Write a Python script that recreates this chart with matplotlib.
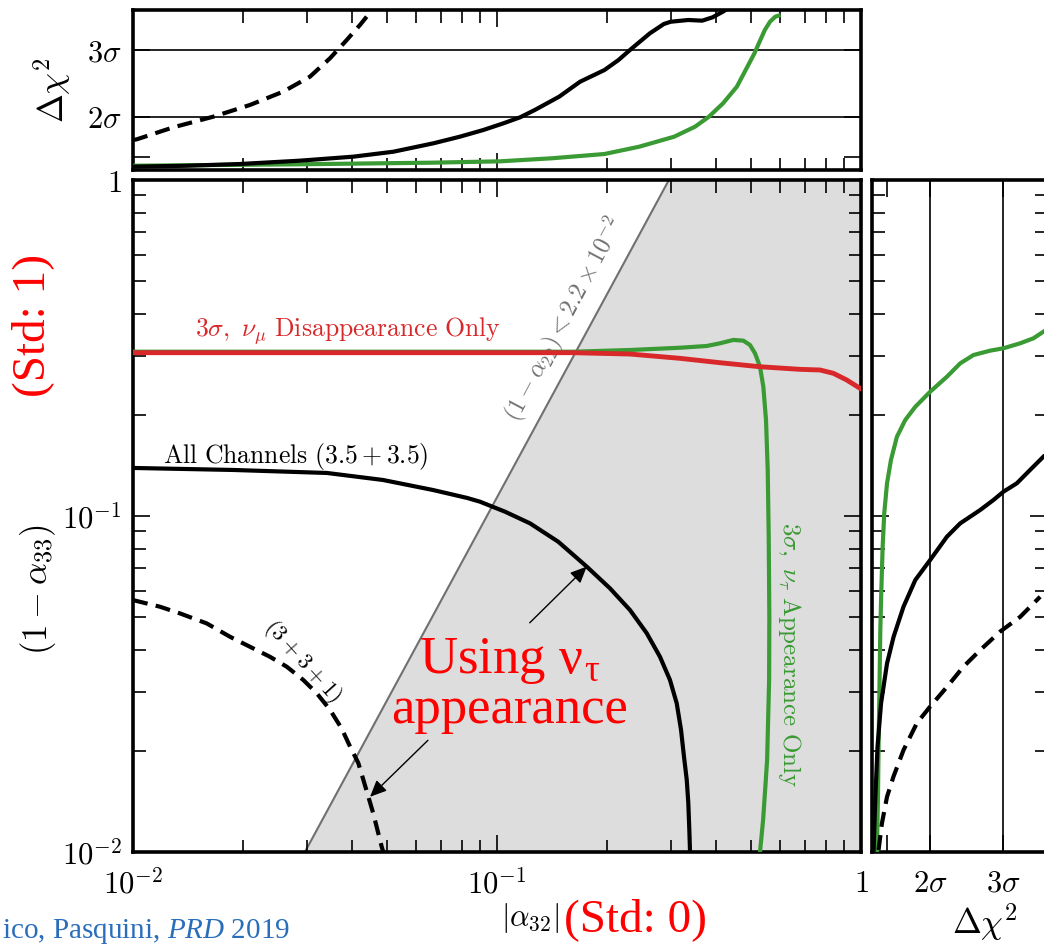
import numpy as np
import matplotlib
matplotlib.use("Agg")
import matplotlib.pyplot as plt
from matplotlib.ticker import LogLocator, NullFormatter

plt.rcParams['mathtext.fontset'] = 'cm'
plt.rcParams['mathtext.it'] = 'Liberation Serif:italic'

# ==== DATA ====
# bound on (1 - alpha_22) that defines the shaded region
alpha22_bound = 2.2e-2

# main panel contours: |alpha_32| vs (1 - alpha_33)
red_x = [0.01, 0.05, 0.0898, 0.162, 0.2319, 0.3182, 0.4099, 0.5279, 0.6799,
         0.7716, 0.8394, 0.9136, 0.9938, 1.0]
red_y = [0.3062, 0.3062, 0.3062, 0.3062, 0.3034, 0.2946, 0.2859, 0.2781, 0.2732,
         0.2720, 0.2659, 0.2540, 0.2399, 0.239]

green_x = [0.01, 0.05, 0.0898, 0.162, 0.2319, 0.3182, 0.3768, 0.4099, 0.4460,
           0.4750, 0.4955, 0.5115, 0.5279, 0.5391, 0.5483, 0.5543, 0.5578, 0.5600,
           0.5592, 0.5557, 0.5522, 0.5453, 0.5383, 0.5279]
green_y = [0.3083, 0.3083, 0.3083, 0.3083, 0.3119, 0.3168, 0.3206, 0.3266, 0.3342,
           0.3326, 0.3228, 0.3049, 0.2781, 0.2425, 0.1931, 0.1371, 0.0868, 0.0501,
           0.0325, 0.0247, 0.0188, 0.0153, 0.01245, 0.01]

black_x = [0.01, 0.0188, 0.0341, 0.0486, 0.0667, 0.0827, 0.0898, 0.1052, 0.1232,
           0.1474, 0.1764, 0.2044, 0.2319, 0.2578, 0.2804, 0.2987, 0.3117, 0.3203,
           0.3264, 0.3321, 0.3354, 0.3376, 0.3391]
black_y = [0.139, 0.1371, 0.1343, 0.128, 0.1195, 0.1132, 0.1103, 0.1030, 0.0951,
           0.0838, 0.0707, 0.0609, 0.0525, 0.0448, 0.0381, 0.0325, 0.0277, 0.0231,
           0.0192, 0.0164, 0.0140, 0.0116, 0.01]

dash_x = [0.01, 0.01186, 0.01346, 0.01594, 0.01848, 0.02097, 0.02379, 0.02645,
          0.02937, 0.03196, 0.03477, 0.03744, 0.03947, 0.04159, 0.04294, 0.04432,
          0.04574, 0.04719, 0.04822, 0.04871]
dash_y = [0.0562, 0.0537, 0.0513, 0.0479, 0.0437, 0.0408, 0.0381, 0.0356, 0.0325,
          0.0297, 0.0265, 0.0233, 0.0206, 0.0184, 0.0164, 0.0146, 0.0130, 0.01137,
          0.01037, 0.01]

# top panel: delta chi^2 vs |alpha_32|
top_black_x = [0.01, 0.01404, 0.01968, 0.02876, 0.04029, 0.05189, 0.06683, 0.07911,
               0.09171, 0.1041, 0.1157, 0.1270, 0.1482, 0.1691, 0.1974, 0.2157,
               0.2330, 0.2630, 0.2873, 0.3001, 0.3352, 0.3661, 0.3909, 0.4178, 0.4271]
top_black_c = [0.25, 0.32, 0.45, 0.70, 1.0, 1.37, 2.0, 2.5, 3.0, 3.5, 3.95, 4.5,
               5.5, 6.62, 7.5, 8.25, 9.05, 10.25, 10.95, 11.12, 11.25, 11.2, 11.45,
               11.88, 12.05]
top_green_x = [0.01, 0.02876, 0.0667, 0.1019, 0.1416, 0.1974, 0.2461, 0.3069,
               0.3501, 0.3822, 0.4178, 0.456, 0.4875, 0.5096, 0.5266, 0.5442,
               0.5623, 0.5815, 0.594]
top_green_c = [0.32, 0.43, 0.55, 0.65, 0.88, 1.2, 1.75, 2.5, 3.25, 4.0, 5.0, 6.25,
               7.75, 8.75, 9.63, 10.5, 11.12, 11.5, 11.58]
top_dash_x = [0.01, 0.01024, 0.0129, 0.01662, 0.02097, 0.02588, 0.03063, 0.03477,
              0.03865, 0.04204, 0.04385]
top_dash_c = [2.25, 2.3, 3.2, 4.0, 4.88, 5.88, 7.0, 8.38, 9.75, 10.88, 11.5]

# right panel: (1 - alpha_33) vs delta chi^2
right_green_c = [0.34, 0.41, 0.45, 0.52, 0.57, 0.64, 0.73, 0.84, 1.03, 1.30, 1.71,
                 2.28, 2.97, 3.99, 5.14, 6.05, 6.96, 8.10, 9.01, 10.16, 11.07, 11.75]
right_green_y = [0.01014, 0.0146, 0.0206, 0.0325, 0.0458, 0.0602, 0.0810, 0.1019,
                 0.1251, 0.1468, 0.1722, 0.1931, 0.2114, 0.2344, 0.2598, 0.2847,
                 0.3014, 0.3105, 0.3156, 0.3266, 0.3380, 0.3535]
right_black_c = [0.11, 0.23, 0.38, 0.62, 1.03, 1.48, 2.16, 2.97, 3.99, 5.14, 6.05,
                 7.42, 8.33, 9.01, 9.93, 10.84, 11.75]
right_black_y = [0.01014, 0.0146, 0.0206, 0.0277, 0.0364, 0.0437, 0.0537, 0.0645,
                 0.0740, 0.0868, 0.0951, 0.1042, 0.1116, 0.1181, 0.1251, 0.1371,
                 0.1501]
right_dash_c = [0.45, 0.68, 1.03, 1.48, 2.16, 3.08, 3.99, 5.14, 6.27, 7.42, 8.79,
                10.16, 11.53]
right_dash_y = [0.01014, 0.01217, 0.0146, 0.0168, 0.0201, 0.0242, 0.0271, 0.0310,
                0.0356, 0.0399, 0.0453, 0.0501, 0.0575]

# delta chi^2 levels for 1, 2, 3 sigma
sigma_levels = [1, 4, 9]
sigma_labels = ['', r'$2\sigma$', r'$3\sigma$']

RED = '#d8282a'
GREEN = '#3a9a33'
LW = 3.0
DASH = (0, (3.6, 2.0))

fig = plt.figure(figsize=(10.44, 9.48), dpi=100)
W, H = 1044.0, 948.0

def px_axes(left, top, right, bottom):
    return fig.add_axes([left / W, 1 - bottom / H, (right - left) / W, (bottom - top) / H])

ax = px_axes(133, 180, 861, 852)
axt = px_axes(133, 10, 861, 170)
axr = px_axes(872, 180, 1047, 852)

def style(a):
    for s in a.spines.values():
        s.set_linewidth(2.6)
    a.tick_params(which='both', direction='in', top=True, right=True,
                  width=1.2, labelsize=22, pad=8)
    a.tick_params(which='major', length=12)
    a.tick_params(which='minor', length=9)

# ==== MAIN PANEL ====
ax.set_xscale('log')
ax.set_yscale('log')
ax.set_xlim(0.01, 1)
ax.set_ylim(0.01, 1)

yy = np.logspace(-2, 0, 200)
xb = np.sqrt(4 * alpha22_bound * yy)
ax.fill_betweenx(yy, xb, 1, color='#dddddd', zorder=0)
ax.plot(xb, yy, color='#707070', lw=1.5, zorder=1)

ax.plot(green_x, green_y, color=GREEN, lw=LW, zorder=3, solid_joinstyle='round')
ax.plot(red_x, red_y, color=RED, lw=LW + 0.5, zorder=4, solid_joinstyle='round')
ax.plot(black_x, black_y, color='black', lw=LW, zorder=5, solid_joinstyle='round')
ax.plot(dash_x, dash_y, color='black', lw=LW, ls=DASH, zorder=5)

ax.set_xticks([0.01, 0.1, 1], [r'$10^{-2}$', r'$10^{-1}$', r'$1$'])
ax.set_yticks([0.01, 0.1, 1], [r'$10^{-2}$', r'$10^{-1}$', r'$1$'])
for axis in (ax.xaxis, ax.yaxis):
    axis.set_minor_locator(LogLocator(base=10, subs=range(2, 10)))
    axis.set_minor_formatter(NullFormatter())
style(ax)
ax.tick_params(axis='x', pad=12)

ax.text(0.0148, 0.355, r'$3\sigma,\ \nu_\mu\ \mathrm{Disappearance\ Only}$',
        color=RED, fontsize=18.5, ha='left', va='center')
ax.text(0.0121, 0.150, r'$\mathrm{All\ Channels}\ (3.5+3.5)$',
        color='black', fontsize=18.5, ha='left', va='center')
ax.text(0.153, 0.385, r'$(1-\alpha_{22}) < 2.2\times10^{-2}$',
        color='#707070', fontsize=17.5, rotation=62, ha='center', va='center')
ax.text(0.638, 0.0386, r'$3\sigma,\ \nu_\tau\ \mathrm{Appearance\ Only}$',
        color=GREEN, fontsize=18, rotation=-90, ha='center', va='center')
ax.text(0.0293, 0.0368, r'$(3+3+1)$', color='black', fontsize=16.5,
        rotation=-48, ha='center', va='center')

ax.text(0.1086, 0.0314, 'Using ν$_{\\mathregular{τ}}$\nappearance', color='red',
        fontsize=38, family='Liberation Serif', ha='center', va='center',
        linespacing=1.0, zorder=6)
arrow = dict(arrowstyle='-|>,head_length=1.0,head_width=0.45', color='black',
             lw=1.0, shrinkA=0, shrinkB=0)
ax.annotate('', xy=(0.1764, 0.0707), xytext=(0.123, 0.0481), arrowprops=arrow, zorder=6)
ax.annotate('', xy=(0.0448, 0.0146), xytext=(0.0646, 0.0215), arrowprops=arrow, zorder=6)

# ==== TOP PANEL ====
axt.set_xscale('log')
axt.set_xlim(0.01, 1)
axt.set_ylim(0, 12)
for lev in sigma_levels[1:]:
    axt.axhline(lev, color='black', lw=1.2, zorder=1)
axt.plot(top_green_x, top_green_c, color=GREEN, lw=LW, zorder=3, solid_joinstyle='round')
axt.plot(top_black_x, top_black_c, color='black', lw=LW, zorder=4, solid_joinstyle='round')
axt.plot(top_dash_x, top_dash_c, color='black', lw=LW, ls=DASH, zorder=4)
axt.set_yticks(sigma_levels, sigma_labels)
axt.xaxis.set_minor_locator(LogLocator(base=10, subs=range(2, 10)))
axt.xaxis.set_minor_formatter(NullFormatter())
style(axt)
axt.tick_params(labelbottom=False)

# ==== RIGHT PANEL ====
axr.set_yscale('log')
axr.set_ylim(0.01, 1)
axr.set_xlim(0, 12)
for lev in sigma_levels[1:]:
    axr.axvline(lev, color='black', lw=1.2, zorder=1)
axr.plot(right_green_c, right_green_y, color=GREEN, lw=LW, zorder=3, solid_joinstyle='round')
axr.plot(right_black_c, right_black_y, color='black', lw=LW, zorder=4, solid_joinstyle='round')
axr.plot(right_dash_c, right_dash_y, color='black', lw=LW, ls=DASH, zorder=4)
axr.set_xticks(sigma_levels, sigma_labels)
axr.set_yticks([0.01, 0.1, 1])
axr.yaxis.set_minor_locator(LogLocator(base=10, subs=range(2, 10)))
axr.yaxis.set_minor_formatter(NullFormatter())
style(axr)
axr.tick_params(labelleft=False)
axr.tick_params(axis='x', pad=12)

# ==== AXIS LABELS / NOTES ====
fig.text(530 / W, 1 - 918 / H, r'$|\alpha_{32}|$', fontsize=22, ha='center', va='center')
fig.text(38 / W, 1 - 590 / H, r'$(1-\alpha_{33})$', fontsize=25, rotation=90,
         ha='center', va='center')
fig.text(52 / W, 1 - 90 / H, r'$\Delta\chi^2$', fontsize=25, rotation=90,
         ha='center', va='center')
fig.text(985 / W, 1 - 922 / H, r'$\Delta\chi^2$', fontsize=25, ha='center', va='center')

fig.text(33 / W, 1 - 325 / H, '(Std: 1)', color='red', fontsize=34,
         family='Liberation Serif', rotation=90, ha='center', va='center')
fig.text(636 / W, 1 - 920 / H, '(Std: 0)', color='red', fontsize=34,
         family='Liberation Serif', ha='center', va='center')
fig.text(2 / W, 10 / H, r'ico, Pasquini, $\mathit{PRD}$ 2019', color='#2a6ebb',
         fontsize=21, family='Liberation Serif', math_fontfamily='custom',
         ha='left', va='baseline')

fig.savefig('out.png', dpi=100)
